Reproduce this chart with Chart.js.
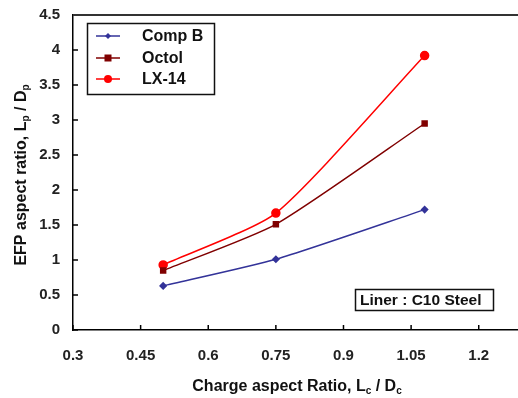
<!DOCTYPE html>
<html>
<head>
<meta charset="utf-8">
<script src="https://cdn.jsdelivr.net/npm/chart.js@4"></script>
<style>
  html, body { margin: 0; padding: 0; background: #fff; overflow: hidden; }
  #wrap { width: 518px; height: 398px; position: relative; overflow: hidden; }
</style>
</head>
<body>
<div id="wrap"><canvas id="myChart" width="523" height="398"></canvas></div>
<script>
const chargeRatio = [0.5, 0.75, 1.08]
const compB = [0.63, 1.01, 1.72]
const octol = [0.85, 1.51, 2.95]
const lx14 = [0.93, 1.67, 3.92]
const xTicks = [0.3, 0.45, 0.6, 0.75, 0.9, 1.05, 1.2]
const yTicks = [0, 0.5, 1, 1.5, 2, 2.5, 3, 3.5, 4, 4.5]
const seriesNames = ["Comp B", "Octol", "LX-14"]

const FONT = "'Liberation Sans', Arial, sans-serif"

const toPoints = (ys) => chargeRatio.map((x, i) => ({ x: x, y: ys[i] }))

// inward tick marks, top frame line, legend box, note box and axis titles
const extras = {
  id: "extras",
  afterDraw(chart) {
    const ctx = chart.ctx
    const area = chart.chartArea
    const xs = chart.scales.x
    const ys = chart.scales.y
    ctx.save()
    ctx.strokeStyle = "#000"
    ctx.lineWidth = 1.5
    xTicks.forEach((t) => {
      const px = xs.getPixelForValue(t)
      ctx.beginPath()
      ctx.moveTo(px, area.bottom)
      ctx.lineTo(px, area.bottom - 5)
      ctx.stroke()
    })
    yTicks.forEach((t) => {
      const py = ys.getPixelForValue(t)
      ctx.beginPath()
      ctx.moveTo(area.left, py)
      ctx.lineTo(area.left + 5, py)
      ctx.stroke()
    })
    ctx.strokeStyle = "#333"
    ctx.lineWidth = 2
    ctx.beginPath()
    ctx.moveTo(area.left, area.top)
    ctx.lineTo(523, area.top)
    ctx.stroke()

    // legend
    ctx.strokeStyle = "#111"
    ctx.lineWidth = 1.5
    ctx.strokeRect(87.5, 23.5, 127, 71)
    ctx.font = "bold 16px " + FONT
    ctx.textBaseline = "middle"
    ctx.textAlign = "left"
    const rows = [36, 58, 79]
    chart.data.datasets.forEach((ds, i) => {
      const y = rows[i]
      ctx.strokeStyle = ds.borderColor
      ctx.lineWidth = 1.5
      ctx.beginPath()
      ctx.moveTo(96, y)
      ctx.lineTo(120, y)
      ctx.stroke()
      ctx.fillStyle = ds.borderColor
      const r = ds.pointRadius
      if (ds.pointStyle === "rect") {
        ctx.fillRect(108 - r, y - r, 2 * r, 2 * r)
      } else if (ds.pointStyle === "rectRot") {
        ctx.beginPath()
        ctx.moveTo(108, y - r)
        ctx.lineTo(108 + r, y)
        ctx.lineTo(108, y + r)
        ctx.lineTo(108 - r, y)
        ctx.closePath()
        ctx.fill()
      } else {
        ctx.beginPath()
        ctx.arc(108, y, r, 0, Math.PI * 2)
        ctx.fill()
      }
      ctx.fillStyle = "#111"
      ctx.fillText(seriesNames[i], 142, y + 1)
    })

    // note box
    ctx.strokeStyle = "#111"
    ctx.lineWidth = 1.5
    ctx.strokeRect(355.5, 289.5, 138, 21)
    ctx.fillStyle = "#111"
    ctx.font = "bold 15.5px " + FONT
    ctx.fillText("Liner : C10 Steel", 360, 301)

    // axis titles with subscripts
    const drawTitle = (parts, cx, cy, rotate) => {
      ctx.save()
      ctx.translate(cx, cy)
      if (rotate) ctx.rotate(-Math.PI / 2)
      const big = "bold 16px " + FONT
      const small = "bold 10px " + FONT
      let total = 0
      parts.forEach((p) => {
        ctx.font = p.sub ? small : big
        total += ctx.measureText(p.t).width
      })
      let x = -total / 2
      ctx.textAlign = "left"
      ctx.textBaseline = "alphabetic"
      ctx.fillStyle = "#111"
      parts.forEach((p) => {
        ctx.font = p.sub ? small : big
        ctx.fillText(p.t, x, p.sub ? 9 : 6)
        x += ctx.measureText(p.t).width
      })
      ctx.restore()
    }
    drawTitle([
      { t: "Charge aspect Ratio, L" }, { t: "c", sub: true },
      { t: " / D" }, { t: "c", sub: true }
    ], 297, 385, false)
    drawTitle([
      { t: "EFP aspect ratio, L" }, { t: "p", sub: true },
      { t: " / D" }, { t: "p", sub: true }
    ], 20, 175, true)
    ctx.restore()
  }
}

const data = {
  datasets: [
    {
      label: seriesNames[0],
      data: toPoints(compB),
      borderColor: "#333399",
      backgroundColor: "#333399",
      borderWidth: 1.5,
      pointStyle: "rectRot",
      pointRadius: 3,
      tension: 0.2,
    },
    {
      label: seriesNames[1],
      data: toPoints(octol),
      borderColor: "#800000",
      backgroundColor: "#800000",
      borderWidth: 1.5,
      pointStyle: "rect",
      pointRadius: 3.5,
      tension: 0.2,
    },
    {
      label: seriesNames[2],
      data: toPoints(lx14),
      borderColor: "#ff0000",
      backgroundColor: "#ff0000",
      borderWidth: 1.5,
      pointStyle: "circle",
      pointRadius: 4,
      tension: 0.2,
    },
  ],
}

const config = {
  type: "line",
  data: data,
  options: {
    responsive: false,
    animation: false,
    layout: { padding: { top: 15, left: 0, right: 0, bottom: 0 } },
    plugins: { legend: { display: false }, tooltip: { enabled: false } },
    scales: {
      x: {
        type: "linear",
        min: 0.3,
        max: 1.286,
        afterBuildTicks: (scale) => {
          scale.ticks = xTicks.map((v) => ({ value: v }))
        },
        afterFit: (scale) => {
          scale.height = 68
          scale.paddingLeft = 0
          scale.paddingRight = 0
        },
        grid: { display: false, drawTicks: false },
        border: { display: true, color: "#000", width: 1.5 },
        ticks: {
          padding: 17,
          color: "#222",
          font: { family: FONT, size: 15, weight: "bold" },
          callback: (v) => String(v),
        },
      },
      y: {
        min: 0,
        max: 4.5,
        afterBuildTicks: (scale) => {
          scale.ticks = yTicks.map((v) => ({ value: v }))
        },
        afterFit: (scale) => {
          scale.width = 73
          scale.paddingTop = 0
          scale.paddingBottom = 0
        },
        grid: { display: false, drawTicks: false },
        border: { display: true, color: "#000", width: 1.5 },
        ticks: {
          padding: 13,
          color: "#222",
          font: { family: FONT, size: 15, weight: "bold" },
          callback: (v) => String(v),
        },
      },
    },
  },
  plugins: [extras],
}

new Chart(document.getElementById("myChart"), config)
</script>
</body>
</html>
